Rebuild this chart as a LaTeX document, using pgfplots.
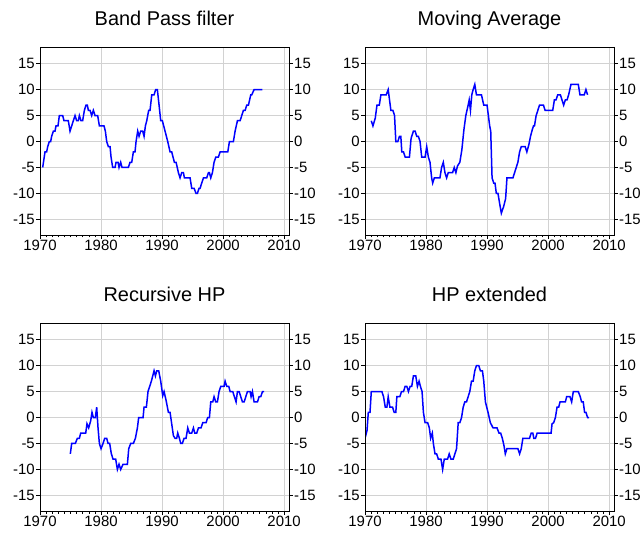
\documentclass[border=0pt]{standalone}
\usepackage{fontspec}
\setmainfont{Liberation Sans}
\usepackage{pgfplots}
\pgfplotsset{compat=1.18}
\definecolor{gridgray}{RGB}{210,210,210}
\definecolor{lineblue}{RGB}{0,0,255}
\pgfplotsset{
 panelgeom/.style={
  width=249bp, height=188bp, scale only axis,
  xmin=1970, xmax=2010.8, ymin=-18, ymax=18.2,
  ytick={-15,-10,...,15},
  tick align=outside, major tick length=4bp, minor tick length=2.5bp,
  tick style={black, line width=0.6bp},
  axis line style={black, line width=0.8bp},
  ticklabel style={font=\fontsize{15}{15}\selectfont, inner sep=1bp},
  /pgf/number format/assume math mode=true,
 },
 panel/.style={
  panelgeom,
  xtick={1970,1980,...,2010}, minor x tick num=9,
  xtick pos=left, ytick pos=left,
  grid=major, major grid style={draw=gridgray, line width=0.9bp},
  xticklabel style={/pgf/number format/1000 sep={}},
  title style={font=\fontsize{20}{20}\selectfont, anchor=base, at={(0.5,1)}, yshift=16bp},
 },
 rightaxis/.style={
  panelgeom,
  hide x axis, ytick pos=right, yticklabel pos=right,
 },
 series/.style={lineblue, line width=1.5bp, no marks},
}
\begin{document}
\begin{tikzpicture}
\useasboundingbox (0,0) rectangle (644bp,533bp);
% Panel 1
\begin{axis}[panel, at={(40bp,298bp)}, anchor=south west, title={Band Pass filter}]
\addplot[series] coordinates {(1970.44,-5)(1970.82,-2)(1971.09,-2)(1971.26,-1)(1971.53,0)(1971.75,0)(1971.91,1)(1972.19,2)(1972.46,2)(1972.62,3)(1972.95,3)(1973.17,5)(1973.72,5)(1973.93,4)(1974.64,4)(1974.92,2)(1975.19,3)(1975.46,4)(1975.74,5)(1976.01,4)(1976.28,4)(1976.45,5)(1976.72,4)(1976.99,4)(1977.27,6)(1977.54,7)(1977.76,7)(1977.92,6)(1978.20,6)(1978.47,5)(1978.74,6)(1979.02,5)(1979.45,5)(1979.73,3)(1980.49,3)(1980.71,2)(1980.93,0)(1981.20,-1)(1981.48,-1)(1981.64,-3)(1981.91,-5)(1982.30,-5)(1982.46,-4)(1982.79,-4)(1982.95,-5)(1983.22,-4)(1983.44,-5)(1984.48,-5)(1984.75,-4)(1985.03,-4)(1985.30,-2)(1985.57,-2)(1985.74,0)(1986.01,2)(1986.23,1)(1986.50,2)(1986.83,2)(1987.05,1)(1987.27,3)(1987.49,4)(1987.81,6)(1988.03,6)(1988.31,9)(1988.69,9)(1988.96,10)(1989.23,10)(1989.51,7)(1989.78,4)(1990.05,4)(1990.49,2)(1990.93,0)(1991.31,-2)(1991.58,-2)(1992.02,-4)(1992.30,-4)(1992.68,-6)(1992.95,-7)(1993.22,-6)(1993.50,-6)(1993.66,-7)(1994.59,-7)(1994.86,-9)(1995.25,-9)(1995.57,-10)(1995.79,-10)(1996.07,-9)(1996.23,-9)(1996.50,-8)(1996.78,-7)(1997.32,-7)(1997.60,-6)(1997.76,-6)(1997.98,-7)(1998.25,-6)(1998.52,-4)(1998.80,-3)(1999.23,-3)(1999.51,-2)(2000.77,-2)(2001.04,0)(2001.69,0)(2001.97,2)(2002.35,4)(2002.79,4)(2003.06,5)(2003.33,6)(2003.61,6)(2003.88,7)(2004.15,7)(2004.54,9)(2004.70,9)(2005.08,10)(2006.45,10)};
\end{axis}
\begin{axis}[rightaxis, at={(40bp,298bp)}, anchor=south west]
\end{axis}
% Panel 2
\begin{axis}[panel, at={(365bp,298bp)}, anchor=south west, title={Moving Average}]
\addplot[series] coordinates {(1971.03,4)(1971.30,3)(1971.68,4.5)(1971.96,7)(1972.34,7)(1972.61,9)(1973.48,9)(1973.80,10)(1974.24,6)(1974.57,6)(1974.84,5)(1975.05,0)(1975.38,0)(1975.65,1)(1975.87,1)(1976.03,-2)(1976.30,-2)(1976.58,-3)(1977.28,-3)(1977.55,0.6)(1977.93,2)(1978.21,2)(1978.48,1)(1978.75,1)(1979.02,0)(1979.29,-3)(1979.84,-3)(1980.11,-1)(1980.38,-3)(1980.65,-4)(1980.92,-7)(1981.09,-8)(1981.36,-7)(1982.28,-7)(1982.55,-5)(1982.83,-4)(1983.10,-6)(1983.37,-7)(1983.64,-6)(1984.35,-6)(1984.62,-5)(1984.89,-6)(1985.16,-4.7)(1985.54,-4)(1985.87,-1.6)(1986.20,2.2)(1986.52,5)(1986.90,7)(1987.07,8)(1987.28,6)(1987.50,9)(1987.72,10)(1987.99,11)(1988.26,9)(1989.08,9)(1989.46,7)(1990.00,7)(1990.43,3)(1990.60,2)(1990.82,-7)(1991.09,-8)(1991.30,-8)(1991.52,-10)(1991.79,-10)(1992.07,-12)(1992.34,-13.8)(1992.72,-12.5)(1993.04,-11)(1993.26,-7)(1994.24,-7)(1994.51,-6)(1994.78,-5)(1995.05,-4)(1995.33,-2)(1995.60,-1)(1996.25,-1)(1996.52,-2)(1996.85,-0.6)(1997.12,1)(1997.39,2.2)(1997.61,3)(1997.77,3)(1998.04,5)(1998.32,6)(1998.59,7)(1999.24,7)(1999.51,6)(2000.76,6)(2001.03,8)(2001.30,8)(2001.58,9)(2002.01,9)(2002.28,8)(2002.55,7)(2002.83,8)(2003.10,8)(2003.37,9)(2003.75,11)(2004.95,11)(2005.22,9)(2005.92,9)(2006.20,10)(2006.47,9)};
\end{axis}
\begin{axis}[rightaxis, at={(365bp,298bp)}, anchor=south west]
\end{axis}
% Panel 3
\begin{axis}[panel, at={(40bp,22bp)}, anchor=south west, title={Recursive HP}]
\addplot[series] coordinates {(1974.97,-7)(1975.19,-5)(1975.79,-5)(1976.12,-4)(1976.45,-4)(1976.67,-3)(1977.49,-3)(1977.70,-1.2)(1977.98,-2)(1978.31,-0.6)(1978.52,1)(1978.74,0)(1979.07,0)(1979.29,2)(1979.51,-2)(1979.73,-5)(1980.00,-6)(1980.33,-5)(1980.60,-4)(1980.93,-4)(1981.15,-5)(1981.42,-5)(1981.69,-7)(1981.97,-8)(1982.40,-8)(1982.68,-10)(1982.95,-9)(1983.22,-10)(1983.61,-9)(1984.32,-9)(1984.54,-6)(1984.86,-5)(1985.30,-5)(1985.63,-4)(1985.96,-2)(1986.17,0)(1986.89,0)(1987.05,2)(1987.43,2)(1987.70,5)(1988.25,7)(1988.69,9)(1988.91,8)(1989.13,9)(1989.45,9)(1989.78,7)(1990.11,4.2)(1990.33,5)(1990.66,3.3)(1991.04,1)(1991.31,1)(1991.58,-1.2)(1991.86,-3.5)(1992.13,-4)(1992.40,-4)(1992.57,-3)(1992.84,-4)(1993.06,-5)(1993.33,-5)(1993.61,-4)(1993.93,-4)(1994.21,-2)(1994.48,-3)(1994.86,-3)(1995.14,-2)(1995.36,-3)(1995.68,-3)(1995.96,-2)(1996.39,-2)(1996.67,-1)(1997.21,-1)(1997.49,0)(1997.76,0)(1997.98,3)(1998.31,3)(1998.52,4)(1998.80,3)(1999.07,3)(1999.34,5)(1999.62,6)(2000.16,6)(2000.33,7)(2000.60,6)(2000.93,6)(2001.15,5)(2001.58,5)(2001.86,4)(2002.13,3)(2002.35,5)(2002.62,5)(2002.90,4)(2003.17,3)(2003.44,3)(2003.72,4)(2003.99,5)(2004.43,5)(2004.59,4)(2004.81,5)(2005.08,3)(2005.63,3)(2005.90,4)(2006.17,4)(2006.45,5)(2006.72,5)};
\end{axis}
\begin{axis}[rightaxis, at={(40bp,22bp)}, anchor=south west]
\end{axis}
% Panel 4
\begin{axis}[panel, at={(365bp,22bp)}, anchor=south west, title={HP extended}]
\addplot[series] coordinates {(1970.05,-3.8)(1970.33,-2.5)(1970.54,1)(1970.82,1)(1971.03,5)(1972.77,5)(1973.04,4)(1973.32,2)(1973.59,2)(1973.80,4)(1974.08,2)(1974.51,2)(1974.78,1)(1975.05,1)(1975.22,4)(1975.71,4)(1975.98,5)(1976.30,5)(1976.58,6)(1976.85,6)(1977.12,5)(1977.39,6)(1977.66,6)(1977.93,8)(1978.32,8)(1978.59,6)(1978.86,7)(1979.08,6)(1979.35,5)(1979.57,1)(1979.84,-1)(1980.27,-1)(1980.54,-2)(1980.76,-4)(1981.03,-3)(1981.20,-5)(1981.47,-7)(1981.74,-7)(1982.01,-8)(1982.45,-8)(1982.72,-10)(1982.99,-8)(1983.53,-8)(1983.80,-7)(1984.08,-8)(1984.46,-8)(1984.73,-7)(1985.00,-6)(1985.27,-1)(1985.54,-1)(1985.82,0)(1986.09,2)(1986.36,3)(1986.63,3)(1986.90,4)(1987.17,5)(1987.45,7)(1987.72,7)(1987.99,9)(1988.26,10)(1988.64,10)(1988.91,9)(1989.24,9)(1989.46,7)(1989.73,3)(1990.16,1)(1990.54,-1)(1990.98,-2)(1991.63,-2)(1991.96,-3)(1992.23,-3)(1992.50,-4)(1992.77,-5.4)(1992.99,-7)(1993.26,-6)(1995.05,-6)(1995.33,-7)(1995.60,-6)(1995.87,-4)(1996.96,-4)(1997.23,-3)(1997.50,-3)(1997.66,-4)(1997.93,-4)(1998.21,-3)(2000.49,-3)(2000.65,-1.2)(2000.92,-1)(2001.20,0)(2001.47,2)(2001.74,2)(2001.96,3)(2002.83,3)(2003.04,4)(2003.59,4)(2003.86,3)(2004.13,5)(2004.95,5)(2005.27,4)(2005.49,3)(2005.76,3)(2005.98,1)(2006.20,1)(2006.47,0)(2006.74,0)};
\end{axis}
\begin{axis}[rightaxis, at={(365bp,22bp)}, anchor=south west]
\end{axis}
\end{tikzpicture}
\end{document}
